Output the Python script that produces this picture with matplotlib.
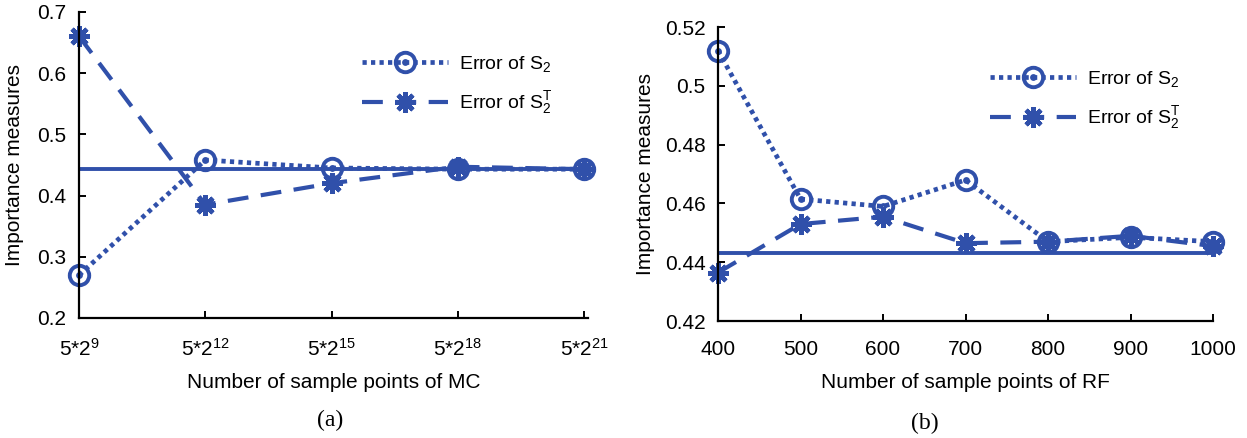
import matplotlib
matplotlib.use("Agg")
import matplotlib.pyplot as plt
from matplotlib.path import Path

plt.rcParams['font.family'] = ['Liberation Sans', 'DejaVu Sans']
plt.rcParams['mathtext.fontset'] = 'custom'
plt.rcParams['mathtext.rm'] = 'Liberation Sans'
plt.rcParams['mathtext.it'] = 'Liberation Sans'

# (a) Monte Carlo
mc_labels = [r'5*2$^{9}$', r'5*2$^{12}$', r'5*2$^{15}$', r'5*2$^{18}$', r'5*2$^{21}$']
mc_s2 = [0.270, 0.458, 0.445, 0.443, 0.443]
mc_s2t = [0.660, 0.385, 0.420, 0.447, 0.443]
mc_exact = 0.443

# (b) random forest
rf_n = [400, 500, 600, 700, 800, 900, 1000]
rf_s2 = [0.512, 0.4615, 0.459, 0.468, 0.447, 0.4485, 0.447]
rf_s2t = [0.4365, 0.453, 0.4555, 0.4465, 0.447, 0.449, 0.4455]
rf_exact = 0.443

blue = '#3050aa'
ring = Path.make_compound_path(Path.unit_circle(), Path.circle(radius=0.15))
star = (8, 2, 0)
W, H = 1247, 438

fig = plt.figure(figsize=(12.47, 4.38), dpi=100)
ax1 = fig.add_axes([0.0634, 0.274, 0.408, 0.699])
ax2 = fig.add_axes([0.5758, 0.267, 0.397, 0.671])


def style(ax):
    for s in ['top', 'right']:
        ax.spines[s].set_visible(False)
    for s in ['left', 'bottom']:
        ax.spines[s].set_linewidth(1.6)
    ax.tick_params(direction='in', length=5, width=1.4, labelsize=15)
    ax.tick_params(axis='x', pad=14)
    ax.tick_params(axis='y', pad=9)
    ax.set_ylabel('Importance measures', fontsize=15)


def draw(ax, x, s2, s2t, exact):
    ax.plot([x[0], x[-1]], [exact, exact], color=blue, lw=2.8)
    ax.plot(x, s2, color=blue, ls=(0, (0.9, 0.9)), lw=3.4, marker=ring, ms=14,
            mfc='none', mew=2.8, label=r'Error of S$_2$', clip_on=False)
    ax.plot(x, s2t, color=blue, ls=(0, (5, 3)), lw=3, marker=star, ms=15,
            mew=3.2, label=r'Error of S$_2^T$', clip_on=False)


mc_x = list(range(len(mc_labels)))
draw(ax1, mc_x, mc_s2, mc_s2t, mc_exact)
ax1.set_xlim(0, 4.03)
ax1.set_ylim(0.2, 0.7)
ax1.set_xticks(mc_x)
ax1.set_xticklabels(mc_labels)
ax1.set_yticks([0.2, 0.3, 0.4, 0.5, 0.6, 0.7])
style(ax1)
ax1.yaxis.set_label_coords(-0.108, 0.5)
ax1.set_xlabel('Number of sample points of MC', fontsize=15, labelpad=10)

draw(ax2, rf_n, rf_s2, rf_s2t, rf_exact)
ax2.set_xlim(400, 1000)
ax2.set_ylim(0.42, 0.52)
ax2.set_xticks(rf_n)
ax2.set_yticks([0.42, 0.44, 0.46, 0.48, 0.5, 0.52])
ax2.set_yticklabels(['0.42', '0.44', '0.46', '0.48', '0.5', '0.52'])
style(ax2)
ax2.yaxis.set_label_coords(-0.127, 0.5)
ax2.set_xlabel('Number of sample points of RF', fontsize=15, labelpad=10)

for ax, (px, py) in [(ax1, (362, 54)), (ax2, (990, 69))]:
    ax.legend(loc='upper left', bbox_to_anchor=(px / W, 1 - py / H),
              bbox_transform=fig.transFigure,
              frameon=False, fontsize=14, handlelength=4.4, handletextpad=0.6,
              labelspacing=0.8, numpoints=1, borderpad=0, borderaxespad=0)

fig.text(330 / W, 1 - 420 / H, '(a)', family='Liberation Serif',
         fontsize=17, ha='center', va='center')
fig.text(925 / W, 1 - 423 / H, '(b)', family='Liberation Serif',
         fontsize=17, ha='center', va='center')

fig.savefig('out.png', dpi=100)
